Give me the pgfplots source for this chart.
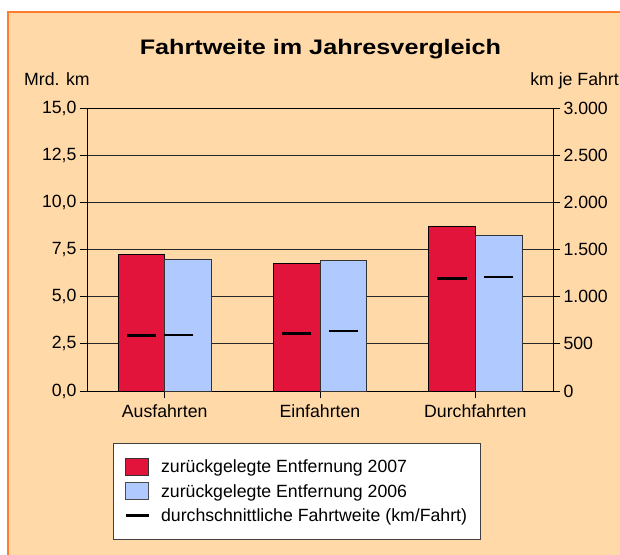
\documentclass[border=0pt]{standalone}
\usepackage{pgfplots}
\pgfplotsset{compat=1.18}
\usepackage{fontspec}
\setmainfont{Liberation Sans}
\definecolor{peach}{RGB}{255,217,168}
\definecolor{bord}{RGB}{255,125,45}
\definecolor{barred}{RGB}{227,20,60}
\definecolor{barblue}{RGB}{176,202,255}
\newcommand{\lbl}{\fontsize{17.7}{21}\selectfont}
\begin{document}
\begin{tikzpicture}
\useasboundingbox (-87pt,-163pt) rectangle (533pt,391pt);
\clip (-87pt,-163pt) rectangle (533pt,391pt);
\fill[white] (-87pt,-163pt) rectangle (533pt,391pt);
\fill[peach] (-79pt,-170pt) rectangle (540pt,379pt);
\draw[bord, line width=1.3pt] (-79pt,-170pt) -- (-79pt,379pt) -- (540pt,379pt);
\node[anchor=base, font=\fontsize{21}{24}\selectfont\bfseries, inner sep=0pt] at (233.5pt,336.7pt) {\scalebox{1.2}[1]{Fahrtweite im Jahresvergleich}};
\node[anchor=base west, font=\lbl, inner sep=0pt] at (-63pt,305pt) {Mrd. km};
\node[anchor=base east, font=\lbl, inner sep=0pt] at (532pt,305pt) {km je Fahrt};
\begin{axis}[
  at={(0pt,0pt)}, anchor=south west,
  width=466pt, height=283pt, scale only axis,
  xmin=-0.5, xmax=2.5, ymin=0, ymax=15,
  xtick={0,1,2}, xticklabels={Ausfahrten,Einfahrten,Durchfahrten},
  ytick={0,2.5,5,7.5,10,12.5,15},
  xtick pos=left, ytick pos=left,
  tick align=outside, major tick length=7pt,
  ymajorgrids, grid style={black!85, line width=0.8pt},
  axis line style={black, line width=0.8pt},
  tick style={black, line width=0.8pt},
  /pgf/number format/assume math mode=true,
  ticklabel style={font=\lbl},
  xticklabel style={yshift=-3pt},
  yticklabel style={/pgf/number format/.cd, fixed, fixed zerofill, precision=1, use comma},
  bar width=0.3,
  legend cell align=left,
  legend style={at={(0.0558,-0.1837)}, anchor=north west, draw=black!75, line width=0.8pt,
    fill=white, font=\lbl, inner xsep=11pt, inner ysep=14.5pt, row sep=6pt,
    /tikz/every odd column/.append style={column sep=9pt}},
]
\addplot[ybar, bar shift=-0.15, fill=barred, draw=black, line width=0.8pt,
  legend image code/.code={\draw[fill=barred, draw=black!80, line width=0.8pt] (0pt,-8.5pt) rectangle (23pt,8.5pt);}]
  coordinates {(0,7.24) (1,6.77) (2,8.74)};
\addlegendentry{zurückgelegte Entfernung 2007}
\addplot[ybar, bar shift=0.15, fill=barblue, draw=black!80, line width=0.8pt,
  legend image code/.code={\draw[fill=barblue, draw=black!70, line width=0.8pt] (0pt,-8.5pt) rectangle (23pt,8.5pt);}]
  coordinates {(0,7.0) (1,6.9) (2,8.23)};
\addlegendentry{zurückgelegte Entfernung 2006}
\addlegendimage{legend image code/.code={\draw[black, line width=2.7pt] (0pt,0pt) -- (23pt,0pt);}}
\addlegendentry{durchschnittliche Fahrtweite (km/Fahrt)}
\end{axis}
\begin{axis}[
  at={(0pt,0pt)}, anchor=south west,
  width=466pt, height=283pt, scale only axis,
  xmin=-0.5, xmax=2.5, ymin=0, ymax=3000,
  axis y line*=right, axis x line=none,
  ytick={0,500,1000,1500,2000,2500,3000},
  tick align=outside, major tick length=7pt,
  axis line style={black, line width=0.8pt},
  tick style={black, line width=0.8pt},
  /pgf/number format/assume math mode=true,
  ticklabel style={font=\lbl},
  yticklabel style={/pgf/number format/.cd, 1000 sep={.}},
]
\addplot[only marks, mark=-, mark size=14.7pt, mark options={line width=2.7pt, black}]
  coordinates {(-0.15,589) (0.85,606) (1.85,1191)};
\addplot[only marks, mark=-, mark size=14.7pt, mark options={line width=2.7pt, black}]
  coordinates {(0.09,595) (1.15,637) (2.15,1208)};
\end{axis}
\end{tikzpicture}
\end{document}
